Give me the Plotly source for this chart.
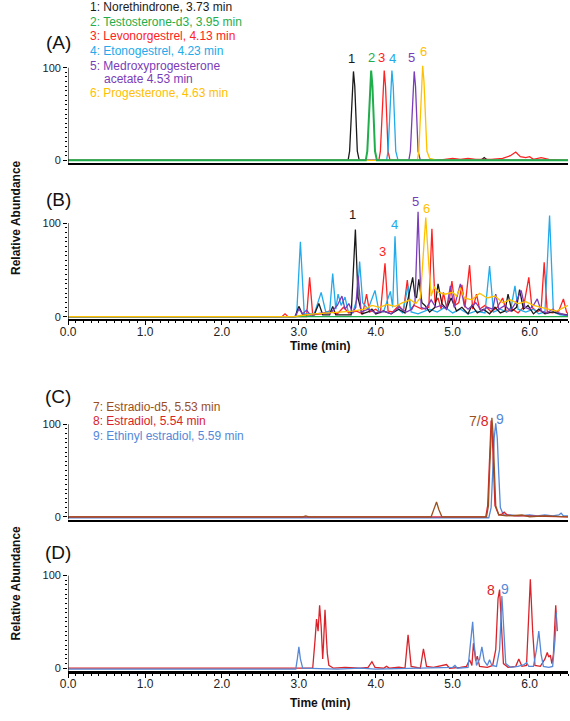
import plotly.graph_objects as go

# ---------------- DATA (time in min, relative abundance) ----------------
# Panel A
A_black = [(0, 0), (3.64, 0), (3.66, 10), (3.675, 40), (3.693, 80), (3.71, 96), (3.727, 80), (3.745, 40), (3.76, 10), (3.785, 0),
           (5.35, 0), (5.38, 1), (5.41, 3), (5.44, 1), (5.5, 0), (6.5, 0)]
A_green = [(0, 0), (3.87, 0), (3.89, 10), (3.905, 40), (3.923, 80), (3.94, 97), (3.957, 80), (3.975, 40), (3.99, 10), (4.015, 0), (6.5, 0)]
A_red = [(0, 0), (4.04, 0), (4.06, 10), (4.075, 40), (4.093, 80), (4.11, 97), (4.127, 80), (4.145, 40), (4.16, 10), (4.185, 0),
         (4.8, 0), (4.9, 1), (5.0, 2), (5.1, 1), (5.2, 2), (5.3, 1), (5.5, 1), (5.65, 2), (5.75, 5), (5.82, 9), (5.88, 4), (5.95, 3),
         (6.0, 4), (6.05, 1), (6.15, 3), (6.25, 1), (6.4, 0), (6.5, 0)]
A_cyan = [(0, 0), (4.14, 0), (4.16, 10), (4.175, 40), (4.193, 80), (4.21, 97), (4.227, 80), (4.245, 40), (4.26, 10), (4.29, 0), (6.5, 0)]
A_purple = [(0, 0), (4.43, 0), (4.45, 10), (4.465, 40), (4.483, 80), (4.50, 96), (4.517, 80), (4.535, 40), (4.55, 10), (4.58, 0), (6.5, 0)]
A_yellow = [(0, 0), (4.54, 0), (4.56, 10), (4.575, 42), (4.593, 85), (4.61, 102), (4.627, 85), (4.645, 42), (4.665, 10), (4.70, 2),
            (4.8, 0), (6.5, 0)]

# Panel B
B_cyan = [(0, 0), (2.97, 0), (3.02, 80), (3.07, 3), (3.2, 3), (3.29, 26), (3.35, 5), (3.4, 5), (3.44, 46), (3.48, 8), (3.51, 24), (3.55, 12),
          (3.6, 21), (3.64, 6), (3.7, 4), (3.76, 20), (3.79, 59), (3.83, 15), (3.9, 8), (3.99, 28), (4.04, 6), (4.1, 5), (4.19, 27), (4.22, 10),
          (4.25, 86), (4.29, 8), (4.35, 4), (4.42, 33), (4.46, 5), (4.55, 3), (4.7, 8), (4.8, 5), (4.9, 10), (5.0, 4), (5.1, 8), (5.2, 3),
          (5.3, 6), (5.42, 4), (5.48, 54), (5.53, 5), (5.62, 8), (5.7, 5), (5.76, 10), (5.81, 33), (5.85, 8), (5.95, 5), (6.05, 8), (6.12, 3),
          (6.2, 5), (6.26, 108), (6.31, 5), (6.4, 2), (6.5, 1)]
B_red = [(0, 0), (2.78, 0), (2.82, 3), (2.86, 0), (3.1, 0), (3.14, 42), (3.18, 2), (3.3, 3), (3.4, 6), (3.5, 3), (3.58, 10), (3.65, 4),
         (3.75, 6), (3.83, 3), (3.88, 24), (3.92, 5), (4.0, 8), (4.06, 4), (4.12, 57), (4.16, 6), (4.22, 5), (4.3, 12), (4.36, 6), (4.41, 39),
         (4.45, 8), (4.5, 12), (4.6, 8), (4.69, 10), (4.73, 94), (4.77, 15), (4.81, 20), (4.85, 8), (4.88, 26), (4.92, 10), (4.96, 20),
         (4.99, 38), (5.03, 12), (5.08, 15), (5.12, 34), (5.16, 10), (5.22, 55), (5.26, 8), (5.31, 24), (5.35, 8), (5.42, 12), (5.5, 5),
         (5.58, 10), (5.65, 20), (5.7, 5), (5.78, 8), (5.85, 4), (5.92, 10), (5.96, 28), (5.99, 42), (6.03, 10), (6.1, 5), (6.15, 8),
         (6.19, 58), (6.23, 5), (6.3, 4), (6.38, 6), (6.44, 19), (6.48, 5), (6.5, 3)]
B_black = [(0, 0), (2.95, 0), (3.0, 11), (3.05, 2), (3.2, 2), (3.26, 14), (3.31, 2), (3.4, 2), (3.44, 11), (3.48, 2), (3.68, 2), (3.735, 93),
           (3.77, 20), (3.82, 3), (3.9, 5), (3.95, 8), (4.0, 3), (4.1, 6), (4.2, 3), (4.3, 8), (4.38, 4), (4.44, 25), (4.48, 42), (4.51, 22),
           (4.53, 20), (4.56, 40), (4.6, 15), (4.64, 12), (4.7, 5), (4.77, 10), (4.81, 35), (4.86, 14), (4.92, 8), (4.98, 20), (5.05, 6),
           (5.12, 10), (5.2, 3), (5.25, 12), (5.32, 4), (5.4, 8), (5.48, 3), (5.55, 10), (5.62, 4), (5.68, 6), (5.72, 24), (5.77, 6),
           (5.83, 10), (5.87, 29), (5.92, 8), (5.98, 12), (6.05, 3), (6.12, 8), (6.2, 3), (6.3, 5), (6.4, 3), (6.5, 2)]
B_purple = [(0, 0), (2.95, 0), (3.0, 8), (3.05, 3), (3.1, 7), (3.15, 2), (3.3, 4), (3.4, 3), (3.5, 12), (3.56, 22), (3.6, 8), (3.65, 14),
            (3.7, 4), (3.74, 10), (3.77, 44), (3.81, 5), (3.9, 8), (4.0, 4), (4.1, 6), (4.2, 3), (4.3, 10), (4.4, 5), (4.47, 8), (4.51, 15),
            (4.55, 112), (4.59, 10), (4.65, 8), (4.72, 18), (4.78, 10), (4.85, 12), (4.92, 8), (4.97, 33), (5.02, 10), (5.1, 35), (5.15, 12),
            (5.2, 8), (5.3, 15), (5.38, 6), (5.45, 10), (5.52, 8), (5.56, 24), (5.6, 8), (5.68, 12), (5.75, 6), (5.82, 15), (5.89, 28),
            (5.94, 10), (6.0, 8), (6.05, 12), (6.1, 19), (6.15, 6), (6.22, 4), (6.3, 8), (6.38, 4), (6.45, 2), (6.5, 2)]
B_yellow = [(0, 0), (2.95, 0), (3.0, 1), (3.2, 3), (3.4, 4), (3.55, 5), (3.7, 6), (3.85, 8), (3.95, 12), (4.05, 10), (4.15, 13), (4.25, 11),
            (4.35, 15), (4.45, 18), (4.52, 14), (4.58, 20), (4.61, 60), (4.65, 106), (4.69, 55), (4.72, 22), (4.76, 32), (4.82, 26),
            (4.9, 24), (5.0, 26), (5.05, 22), (5.1, 31), (5.15, 20), (5.25, 18), (5.35, 25), (5.45, 20), (5.55, 22), (5.65, 15), (5.75, 18),
            (5.85, 14), (5.95, 16), (6.05, 12), (6.15, 10), (6.25, 8), (6.35, 6), (6.45, 10), (6.5, 12)]
B_green = [(0, 0), (6.5, 0)]

# Panel C
C_blue = [(0, -1), (5.47, -1), (5.5, 10), (5.52, 45), (5.54, 85), (5.56, 101), (5.58, 85), (5.60, 45), (5.62, 10), (5.66, 2), (5.75, 2),
          (5.85, 1), (6.0, 2), (6.1, 1), (6.2, 2), (6.3, 1), (6.38, 2), (6.41, 4), (6.44, 1), (6.5, 1)]
C_brown = [(0, 0), (3.05, 0), (3.09, 1), (3.13, 0), (4.72, 0), (4.76, 8), (4.79, 16), (4.82, 8), (4.86, 0), (5.44, 0), (5.465, 12),
           (5.48, 50), (5.495, 90), (5.51, 107), (5.525, 90), (5.54, 50), (5.56, 12), (5.6, 2), (5.7, 1), (5.9, 2), (6.0, 0), (6.2, 1), (6.5, 0)]
C_red = [(0, 0), (5.43, 0), (5.455, 12), (5.47, 50), (5.485, 88), (5.50, 104), (5.515, 88), (5.53, 50), (5.55, 12), (5.6, 2), (5.64, 3),
         (5.67, 5), (5.71, 2), (5.8, 1), (5.9, 1), (6.5, 0)]

# Panel D
D_red = [(0, 0), (3.18, 0), (3.21, 30), (3.23, 53), (3.25, 40), (3.27, 68), (3.29, 45), (3.31, 10), (3.32, 25), (3.34, 63), (3.36, 30),
         (3.37, 16), (3.39, 3), (3.45, 0), (3.6, 1), (3.8, 0), (3.9, 1), (3.95, 7), (3.99, 1), (4.1, 0), (4.14, 2), (4.18, 0), (4.3, 1),
         (4.38, 0), (4.42, 36), (4.46, 2), (4.58, 0), (4.62, 21), (4.66, 2), (4.75, 1), (4.92, 4), (4.96, 0), (5.1, 1), (5.18, 2),
         (5.22, 9), (5.25, 3), (5.27, 27), (5.30, 8), (5.32, 13), (5.35, 2), (5.45, 1), (5.52, 3), (5.56, 20), (5.59, 75), (5.61, 85),
         (5.63, 50), (5.66, 5), (5.72, 1), (5.82, 2), (5.86, 10), (5.9, 2), (5.96, 3), (5.99, 60), (6.01, 96), (6.04, 40), (6.07, 3),
         (6.14, 2), (6.2, 10), (6.23, 17), (6.25, 12), (6.27, 14), (6.29, 5), (6.31, 15), (6.34, 68), (6.36, 40)]
D_blue = [(0, -1), (2.96, -1), (2.98, 10), (3.0, 23), (3.02, 10), (3.05, 0), (3.5, -1), (3.8, 0), (4.0, -1), (4.7, 0), (5.0, 1), (5.03, 3),
          (5.06, 0), (5.2, 1), (5.24, 30), (5.26, 50), (5.28, 25), (5.31, 3), (5.35, 10), (5.38, 23), (5.41, 8), (5.45, 3), (5.48, 9),
          (5.51, 3), (5.57, 2), (5.61, 20), (5.64, 78), (5.66, 50), (5.69, 5), (5.75, 1), (5.85, 2), (5.93, 4), (5.96, 6), (5.99, 2),
          (6.05, 2), (6.09, 20), (6.12, 40), (6.15, 15), (6.18, 2), (6.25, 1), (6.3, 2), (6.33, 30), (6.35, 60)]

# Text
legend_A = ["1: Norethindrone, 3.73 min", "2: Testosterone-d3, 3.95 min", "3: Levonorgestrel, 4.13 min",
            "4: Etonogestrel, 4.23 min", "5: Medroxyprogesterone", "acetate 4.53 min", "6: Progesterone, 4.63 min"]
legend_C = ["7: Estradio-d5, 5.53 min", "8: Estradiol, 5.54 min", "9: Ethinyl estradiol, 5.59 min"]
A_peak_labels = [("1", 3.69, 110), ("2", 3.94, 111), ("3", 4.08, 111), ("4", 4.22, 110), ("5", 4.465, 111), ("6", 4.625, 117)]
B_peak_labels = [("1", 3.70, 109), ("3", 4.09, 70), ("4", 4.24, 99), ("5", 4.52, 123), ("6", 4.66, 116)]
x_tick_vals = [0, 1, 2, 3, 4, 5, 6]
x_tick_text = ["0.0", "1.0", "2.0", "3.0", "4.0", "5.0", "6.0"]

# ---------------- STYLE ----------------
W, H = 570, 721
BLACK = "#1a1a1a"; GREEN = "#1fae4b"; RED = "#ff2222"; CYAN = "#22aaea"; PURPLE = "#7a3cb8"; YELLOW = "#ffc000"
BROWN = "#9c4f1e"; RED2 = "#d9232a"; BLUE = "#5588d8"
FONT = "Arial, Liberation Sans, sans-serif"


def px(x):
    return x / W


def py(y):
    return 1 - y / H


YMIN, YMAX = -3, 127
panels = [  # (xaxis, yaxis, zero_px, hundred_px)
    ("x", "y", 161, 68),
    ("x2", "y2", 318, 224),
    ("x3", "y3", 519, 426),
    ("x4", "y4", 671, 578),
]

fig = go.Figure()


def add(series, color, xa, ya, width=1.3):
    fig.add_trace(go.Scatter(x=[p[0] for p in series], y=[p[1] for p in series], mode="lines",
                             line=dict(color=color, width=width), xaxis=xa, yaxis=ya,
                             showlegend=False, hoverinfo="skip"))


for s, c in [(A_black, BLACK), (A_red, RED), (A_cyan, CYAN), (A_purple, PURPLE), (A_yellow, YELLOW), (A_green, GREEN)]:
    add(s, c, "x", "y", 1.3 if c != GREEN else 2)
for s, c in [(B_red, RED), (B_cyan, CYAN), (B_black, BLACK), (B_purple, PURPLE), (B_green, GREEN), (B_yellow, YELLOW)]:
    add(s, c, "x2", "y2")
for s, c in [(C_blue, BLUE), (C_red, RED2), (C_brown, BROWN)]:
    add(s, c, "x3", "y3")
for s, c in [(D_red, RED2), (D_blue, BLUE)]:
    add(s, c, "x4", "y4")

layout = dict(width=W, height=H, margin=dict(l=0, r=0, t=0, b=0), paper_bgcolor="white", plot_bgcolor="white",
              font=dict(family=FONT, color="#222"), showlegend=False)
shapes = []
annotations = []
for i, (xa, ya, zero, hundred) in enumerate(panels):
    scale = (zero - hundred) / 100.0
    bottom = zero - YMIN * scale
    top = zero - YMAX * scale
    xkey = "xaxis" if i == 0 else "xaxis%d" % (i + 1)
    ykey = "yaxis" if i == 0 else "yaxis%d" % (i + 1)
    labelled = i in (1, 3)
    xd = dict(domain=[px(61), px(568)], range=[0, 6.5], anchor=ya, showgrid=False, zeroline=False,
              showline=True, linecolor="black", linewidth=[1.5, 2, 1.5, 3][i],
              layer="above traces" if i == 3 else "below traces")
    if labelled:
        xd.update(tickmode="array", tickvals=x_tick_vals, ticktext=x_tick_text, ticks="outside", ticklen=4,
                  tickcolor="black", tickwidth=1, tickfont=dict(size=12, family=FONT, color="#222"),
                  ticklabelstandoff=-4,
                  minor=dict(tickmode="linear", tick0=0, dtick=0.1, ticks="outside", ticklen=2, tickcolor="black"))
    else:
        xd.update(showticklabels=False, ticks="")
    layout[xkey] = xd
    layout[ykey] = dict(domain=[py(bottom), py(top)], range=[YMIN, YMAX], anchor=xa, showgrid=False, zeroline=False,
                        showline=False, tickmode="array", tickvals=[0, 100], ticktext=["0", "100"], ticks="outside",
                        ticklen=4, tickcolor="black", tickfont=dict(size=11, family=FONT, color="#222"),
                        minor=dict(tickmode="array", tickvals=list(range(5, 100, 5)), ticks="outside", ticklen=2,
                                   tickcolor="black"))
    shapes.append(dict(type="line", xref=xa, yref=ya, x0=0, x1=0, y0=YMIN, y1=100, line=dict(color="black", width=1)))

# panel letters
for lab, y in [("(A)", 43), ("(B)", 200), ("(C)", 398), ("(D)", 555)]:
    annotations.append(dict(text=lab, x=px(51), y=py(y), xref="paper", yref="paper", showarrow=False,
                            font=dict(size=19, family=FONT, color="#111"), xanchor="center", yanchor="middle"))

# legend A
cols_A = [BLACK, GREEN, RED, CYAN, PURPLE, PURPLE, YELLOW]
rows_A = [7, 22, 36, 51, 66, 79, 93]
for j, (t, c, y) in enumerate(zip(legend_A, cols_A, rows_A)):
    annotations.append(dict(text=t, x=px(81 if j != 5 else 95), y=py(y), xref="paper", yref="paper", showarrow=False,
                            font=dict(size=12, family=FONT, color=c), xanchor="left", yanchor="middle"))
# legend C
for t, c, y in zip(legend_C, [BROWN, RED2, BLUE], [409, 423, 438]):
    annotations.append(dict(text=t, x=px(84), y=py(y), xref="paper", yref="paper", showarrow=False,
                            font=dict(size=12, family=FONT, color=c), xanchor="left", yanchor="middle"))

# peak labels
col_num = {"1": BLACK, "2": GREEN, "3": RED, "4": CYAN, "5": PURPLE, "6": YELLOW}
for lab, t, v in A_peak_labels:
    annotations.append(dict(text=lab, x=t, y=v, xref="x", yref="y", showarrow=False,
                            font=dict(size=13, family=FONT, color=col_num[lab]), xanchor="center", yanchor="middle"))
for lab, t, v in B_peak_labels:
    annotations.append(dict(text=lab, x=t, y=v, xref="x2", yref="y2", showarrow=False,
                            font=dict(size=13, family=FONT, color=col_num[lab]), xanchor="center", yanchor="middle"))
annotations.append(dict(text="<span style='color:%s'>7/</span><span style='color:%s'>8</span>" % (BROWN, RED2),
                        x=5.34, y=104, xref="x3", yref="y3", showarrow=False, font=dict(size=14, family=FONT),
                        xanchor="center", yanchor="middle"))
annotations.append(dict(text="9", x=5.62, y=106, xref="x3", yref="y3", showarrow=False,
                        font=dict(size=14, family=FONT, color=BLUE), xanchor="center", yanchor="middle"))
annotations.append(dict(text="8", x=5.50, y=84, xref="x4", yref="y4", showarrow=False,
                        font=dict(size=14, family=FONT, color=RED2), xanchor="center", yanchor="middle"))
annotations.append(dict(text="9", x=5.68, y=86, xref="x4", yref="y4", showarrow=False,
                        font=dict(size=14, family=FONT, color=BLUE), xanchor="center", yanchor="middle"))

# axis titles
for y in [347, 706]:
    annotations.append(dict(text="<b>Time (min)</b>", x=px(316), y=py(y), xref="paper", yref="paper", showarrow=False,
                            font=dict(size=12, family=FONT, color="#111"), xanchor="center", yanchor="middle"))
for y in [218, 585]:
    annotations.append(dict(text="<b>Relative Abundance</b>", x=px(8), y=py(y), xref="paper", yref="paper",
                            showarrow=False, textangle=-90, xanchor="center", yanchor="middle",
                            font=dict(size=12, family=FONT, color="#111")))

layout["shapes"] = shapes
layout["annotations"] = annotations
fig.update_layout(**layout)
fig.write_html("out.html", config={"displayModeBar": False},
               post_script="document.body.style.margin='0px';")
